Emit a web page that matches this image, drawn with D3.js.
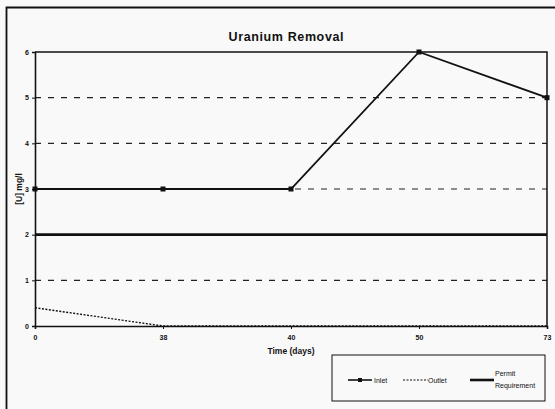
<!DOCTYPE html>
<html><head><meta charset="utf-8">
<script src="https://cdn.jsdelivr.net/npm/d3@7"></script>
<style>html,body{margin:0;padding:0;background:#f9f9f9;}svg{display:block;}</style>
</head><body>
<script>
const categories = ["0", "38", "40", "50", "73"];
const inlet = [3, 3, 3, 6, 5];
const outlet = [0.4, 0, 0, 0, 0];
const permit = [2, 2, 2, 2, 2];
const yTicks = [0, 1, 2, 3, 4, 5, 6];

const W = 555, H = 409;
const svg = d3.select("body").append("svg").attr("width", W).attr("height", H);
svg.append("rect").attr("width", W).attr("height", H).attr("fill", "#f9f9f9");

// outer frame
svg.append("path").attr("d", "M6.5,409 L6.5,7.5 L555,7.5").attr("fill", "none").attr("stroke", "#111").attr("stroke-width", 1.8);

const m = {left: 35, right: 547, top: 52, bottom: 326};
const x = d3.scalePoint().domain(categories).range([m.left, m.right]).padding(0);
const y = d3.scaleLinear().domain([0, 6]).range([m.bottom, m.top]);

// dashed gridlines
svg.append("g").selectAll("line").data(yTicks.filter(d => d > 0 && d < 6)).join("line")
  .attr("x1", m.left).attr("x2", m.right).attr("y1", d => y(d)).attr("y2", d => y(d))
  .attr("stroke", "#222").attr("stroke-width", 1.2).attr("stroke-dasharray", "6,7");

// plot border (top and right)
svg.append("path").attr("d", `M${m.left},${m.top} L${m.right},${m.top} L${m.right},${m.bottom}`)
  .attr("fill", "none").attr("stroke", "#111").attr("stroke-width", 1.5);

// axes
const yAxis = d3.axisLeft(y).tickValues(yTicks).tickSize(3).tickFormat(d3.format("d"));
const gy = svg.append("g").attr("transform", `translate(${m.left},0)`).call(yAxis);
const xAxis = d3.axisBottom(x).tickSize(3);
const gx = svg.append("g").attr("transform", `translate(0,${m.bottom})`).call(xAxis);
[gy, gx].forEach(g => {
  g.select(".domain").attr("stroke", "#111").attr("stroke-width", 1.6);
  g.selectAll(".tick line").attr("stroke", "#111");
  g.selectAll("text").attr("font-family", "Liberation Sans, Arial, sans-serif")
    .attr("font-size", 7).attr("font-weight", "bold").attr("fill", "#111");
});
gx.selectAll(".tick text").attr("dy", "1.1em");

// permit line
const line = d3.line().x((d, i) => x(categories[i])).y(d => y(d));
svg.append("path").datum(permit).attr("d", line).attr("fill", "none")
  .attr("stroke", "#111").attr("stroke-width", 2.6);

// outlet line
svg.append("path").datum(outlet).attr("d", line).attr("fill", "none")
  .attr("stroke", "#111").attr("stroke-width", 1.4).attr("stroke-dasharray", "2,1.5");

// inlet line
svg.append("path").datum(inlet).attr("d", line).attr("fill", "none")
  .attr("stroke", "#111").attr("stroke-width", 1.8);
svg.append("g").selectAll("rect").data(inlet).join("rect")
  .attr("x", (d, i) => x(categories[i]) - 2.5).attr("y", d => y(d) - 2.5)
  .attr("width", 5).attr("height", 5).attr("fill", "#111");

// title
svg.append("text").attr("x", 286).attr("y", 41).attr("text-anchor", "middle")
  .attr("font-family", "Liberation Sans, Arial, sans-serif").attr("font-size", 12.5)
  .attr("font-weight", "bold").attr("fill", "#111").attr("textLength", 115)
  .text("Uranium Removal");

// axis titles
svg.append("text").attr("transform", "translate(22,189) rotate(-90)").attr("text-anchor", "middle")
  .attr("font-family", "Liberation Sans, Arial, sans-serif").attr("font-size", 8.5)
  .attr("font-weight", "bold").attr("fill", "#111").text("[U] mg/l");
svg.append("text").attr("x", 291).attr("y", 354).attr("text-anchor", "middle")
  .attr("font-family", "Liberation Sans, Arial, sans-serif").attr("font-size", 8.5)
  .attr("font-weight", "bold").attr("fill", "#111").text("Time (days)");

// legend
const lg = svg.append("g");
lg.append("rect").attr("x", 332).attr("y", 355).attr("width", 213).attr("height", 46)
  .attr("fill", "none").attr("stroke", "#111").attr("stroke-width", 1);
const ly = 380;
const lfont = "Liberation Sans, Arial, sans-serif";
lg.append("line").attr("x1", 348).attr("x2", 372).attr("y1", ly).attr("y2", ly)
  .attr("stroke", "#111").attr("stroke-width", 1.6);
lg.append("rect").attr("x", 358).attr("y", ly - 2).attr("width", 4).attr("height", 4).attr("fill", "#111");
lg.append("text").attr("x", 374).attr("y", ly + 2.5).attr("font-family", lfont).attr("font-size", 7)
  .attr("fill", "#111").text("Inlet");
lg.append("line").attr("x1", 403).attr("x2", 428).attr("y1", ly).attr("y2", ly)
  .attr("stroke", "#111").attr("stroke-width", 1.2).attr("stroke-dasharray", "2,1.5");
lg.append("text").attr("x", 428).attr("y", ly + 2.5).attr("font-family", lfont).attr("font-size", 7)
  .attr("fill", "#111").text("Outlet");
lg.append("line").attr("x1", 470).attr("x2", 494).attr("y1", ly).attr("y2", ly)
  .attr("stroke", "#111").attr("stroke-width", 2.6);
lg.append("text").attr("x", 495).attr("y", ly - 4).attr("font-family", lfont).attr("font-size", 7)
  .attr("fill", "#111").text("Permit");
lg.append("text").attr("x", 495).attr("y", ly + 8).attr("font-family", lfont).attr("font-size", 7)
  .attr("fill", "#111").text("Requirement");
</script>
</body></html>
